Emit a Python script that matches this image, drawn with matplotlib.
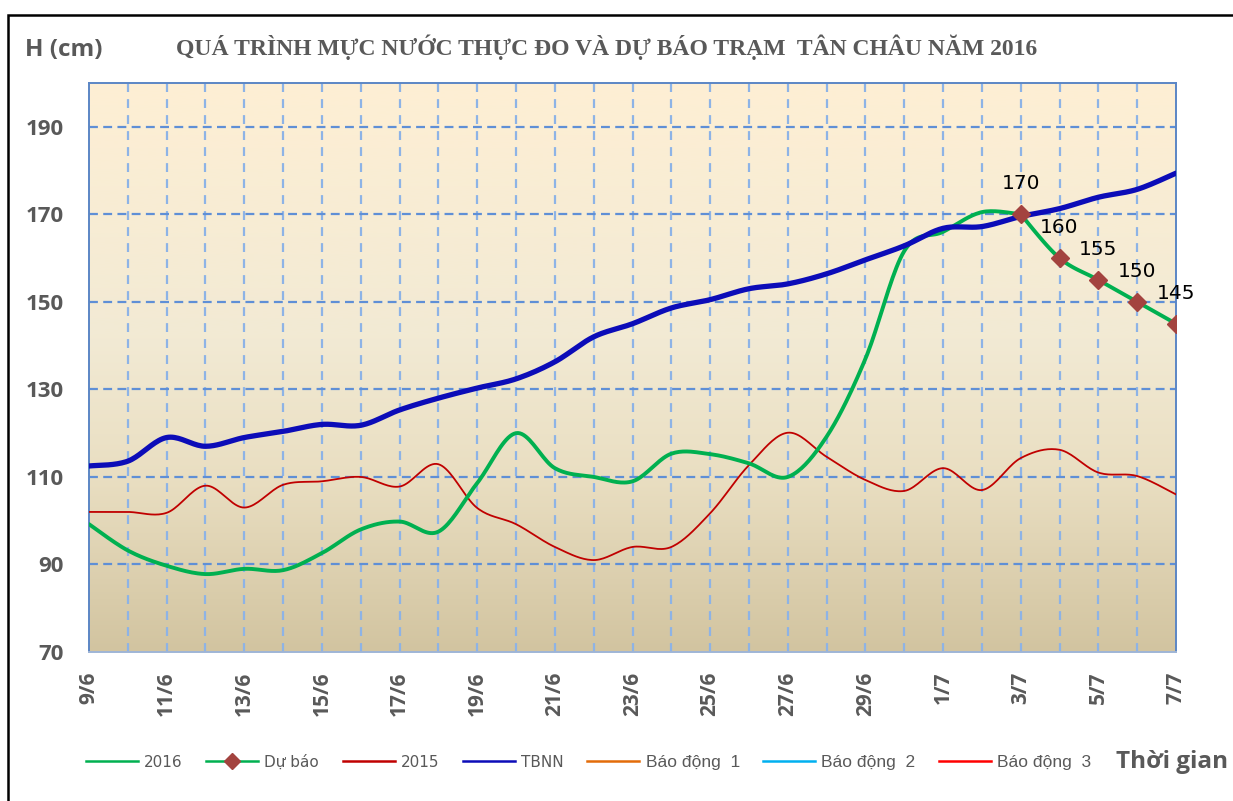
import numpy as np
import matplotlib
matplotlib.use("Agg")
import matplotlib.pyplot as plt
from matplotlib.lines import Line2D
from matplotlib.patches import Rectangle
from matplotlib.colors import LinearSegmentedColormap

# ---------------- data ----------------
dates = ["9/6", "10/6", "11/6", "12/6", "13/6", "14/6", "15/6", "16/6", "17/6", "18/6",
         "19/6", "20/6", "21/6", "22/6", "23/6", "24/6", "25/6", "26/6", "27/6", "28/6",
         "29/6", "30/6", "1/7", "2/7", "3/7", "4/7", "5/7", "6/7", "7/7"]

h2016 = [99.2, 93.2, 89.7, 87.8, 89.0, 88.7, 92.6, 98.0, 99.8, 97.5,
         108.6, 120.0, 112.0, 110.0, 109.0, 115.3, 115.2, 113.1, 110.0, 119.2,
         137.0, 161.6, 166.0, 170.5, 170.0]

forecast_dates = ["3/7", "4/7", "5/7", "6/7", "7/7"]
forecast = [170, 160, 155, 150, 145]

h2015 = [102.0, 102.0, 101.8, 108.0, 103.0, 108.2, 109.0, 110.0, 107.8, 112.9,
         102.9, 99.2, 94.0, 91.0, 94.0, 94.0, 101.7, 112.7, 120.1, 114.6,
         109.3, 106.8, 112.0, 107.0, 114.3, 116.2, 111.0, 110.2, 106.0]

tbnn = [112.5, 113.6, 119.0, 117.0, 119.0, 120.4, 122.0, 121.8, 125.3, 128.0,
        130.3, 132.4, 136.3, 142.0, 145.0, 148.6, 150.5, 153.0, 154.1, 156.4,
        159.6, 162.8, 166.8, 167.2, 169.5, 171.3, 173.9, 175.7, 179.4]

# alarm levels (outside visible range)
bao_dong = [350, 400, 450]

series_labels = ["2016", "Dự báo", "2015", "TBNN", "Báo động  1", "Báo động  2", "Báo động  3"]
yticks = [70, 90, 110, 130, 150, 170, 190]


def smooth(x, y, n=20):
    """Excel-like smoothed line (Catmull-Rom Bezier) through the points."""
    x = np.asarray(x, float)
    y = np.asarray(y, float)
    if len(x) < 3:
        return x, y
    P = np.column_stack([x, y])
    out = []
    for i in range(len(P) - 1):
        p0 = P[i - 1] if i > 0 else P[i]
        p1 = P[i]
        p2 = P[i + 1]
        p3 = P[i + 2] if i + 2 < len(P) else P[i + 1]
        c1 = p1 + (p2 - p0) / 6.0
        c2 = p2 - (p3 - p1) / 6.0
        t = np.linspace(0, 1, n, endpoint=(i == len(P) - 2))[:, None]
        seg = ((1 - t) ** 3) * p1 + 3 * ((1 - t) ** 2) * t * c1 + 3 * (1 - t) * t ** 2 * c2 + t ** 3 * p2
        out.append(seg)
    out = np.vstack(out)
    return out[:, 0], out[:, 1]


idx = {d: i for i, d in enumerate(dates)}
x_all = np.arange(len(dates))
x2016 = np.arange(len(h2016))
xfc = np.array([idx[d] for d in forecast_dates])

# ---------------- figure ----------------
fig = plt.figure(figsize=(12.33, 8.01), dpi=100)
ax = fig.add_axes([89 / 1233, 1 - 652 / 801, (1176 - 89) / 1233, (652 - 83) / 801])

# gradient background
cmap = LinearSegmentedColormap.from_list(
    "bg", [(0.0, (254/255, 239/255, 212/255)),
           (0.45, (242/255, 234/255, 212/255)),
           (0.7, (233/255, 222/255, 193/255)),
           (1.0, (210/255, 196/255, 160/255))])
grad = np.linspace(0, 1, 256)[:, None]
ax.imshow(grad, cmap=cmap, aspect="auto", extent=[0, 1, 0, 1],
          transform=ax.transAxes, zorder=0, interpolation="bicubic")

ax.set_xlim(0, len(dates) - 1)
ax.set_ylim(70, 200)

# grid
for xi in x_all[1:-1]:
    ax.axvline(xi, color="#8DB3E6", lw=1.6, ls=(0, (4, 3.2)), zorder=1)
for yv in yticks[1:]:
    ax.axhline(yv, color="#5F8FD6", lw=1.6, ls=(0, (4, 2.4)), zorder=1)

c_green = "#00B050"
c_mark = "#A3433F"
c_2015 = "#C00000"
c_tbnn = "#0C0CB8"

xs, ys = smooth(x_all, h2015)
ax.plot(xs, ys, color=c_2015, lw=1.3, zorder=3)
xs, ys = smooth(x2016, h2016)
ax.plot(xs, ys, color=c_green, lw=2.8, zorder=4, solid_capstyle="round")
xs, ys = smooth(xfc, forecast)
ax.plot(xs, ys, color=c_green, lw=2.8, zorder=4, solid_capstyle="round")
ax.plot(xfc, forecast, ls="none", marker="D", ms=9.5, color=c_mark, zorder=6)
xs, ys = smooth(x_all, tbnn)
ax.plot(xs, ys, color=c_tbnn, lw=3.8, zorder=5, solid_capstyle="round")

# alarm levels (off-scale)
alarm_colors = ["#E36C09", "#00B0F0", "#FF0000"]
for v, c in zip(bao_dong, alarm_colors):
    ax.plot(x_all, [v] * len(x_all), color=c, lw=1.5)

# forecast labels
for xi, v in zip(xfc, forecast):
    ax.annotate(str(v), (xi, v), xytext=(0, 22), textcoords="offset points",
                ha="center", va="center", fontsize=14.5, color="black",
                family=["DejaVu Sans"], zorder=7)

# axes styling
for s in ax.spines.values():
    s.set_color("#5B86C5")
    s.set_linewidth(1.4)
ax.spines["bottom"].set_color("#9FB5D6")

ax.set_xticks(x_all[::2])
ax.set_xticklabels(dates[::2], rotation=90, fontsize=15, fontweight="bold",
                   color="#595959", family=["Open Sans", "DejaVu Sans"], va="top")
ax.set_yticks(yticks)
ax.set_yticklabels([str(v) for v in yticks], fontsize=16, fontweight="bold",
                   color="#595959", family=["Open Sans", "DejaVu Sans"])
ax.tick_params(axis="x", length=0, pad=14)
ax.tick_params(axis="y", length=0, pad=18)

# texts
fig.text(25 / 1233, 1 - 50 / 801, "H (cm)", fontsize=17.5, fontweight="bold",
         color="#595959", family=["Open Sans", "DejaVu Sans"], ha="left", va="center")
fig.text(607 / 1233, 1 - 47 / 801,
         "QUÁ TRÌNH MỰC NƯỚC THỰC ĐO VÀ DỰ BÁO TRẠM  TÂN CHÂU NĂM 2016",
         fontsize=17, fontweight="bold", color="#595959",
         family=["Liberation Serif", "DejaVu Serif"], ha="center", va="center")
fig.text(1116 / 1233, 1 - 762 / 801, "Thời gian", fontsize=17.5, fontweight="bold",
         color="#595959", family=["Open Sans", "DejaVu Sans"], ha="left", va="center")

# legend
handles = [
    Line2D([], [], color=c_green, lw=1.8),
    Line2D([], [], color=c_green, lw=1.8, marker="D", ms=8, mfc=c_mark, mec=c_mark),
    Line2D([], [], color=c_2015, lw=1.8),
    Line2D([], [], color=c_tbnn, lw=1.8),
    Line2D([], [], color=alarm_colors[0], lw=1.8),
    Line2D([], [], color=alarm_colors[1], lw=1.8),
    Line2D([], [], color=alarm_colors[2], lw=1.8),
]
leg = fig.legend(handles, series_labels, ncol=7, loc="center left",
                 bbox_to_anchor=(86 / 1233, 1 - 762 / 801), frameon=False,
                 borderpad=0, borderaxespad=0, handlelength=3.4, handletextpad=0.4,
                 columnspacing=1.55, prop={"family": ["DejaVu Sans"], "size": 11})
for t in leg.get_texts():
    t.set_color("#595959")
for t in leg.get_texts()[4:]:
    t.set_family(["Liberation Sans", "DejaVu Sans"])
    t.set_fontsize(12.5)

# outer frame
fig.add_artist(Rectangle((8 / 1233, -0.05), 1.2, 1 - 15 / 801 + 0.05,
                         transform=fig.transFigure, fill=False, ec="black", lw=1.8))

fig.savefig("out.png", dpi=100)
